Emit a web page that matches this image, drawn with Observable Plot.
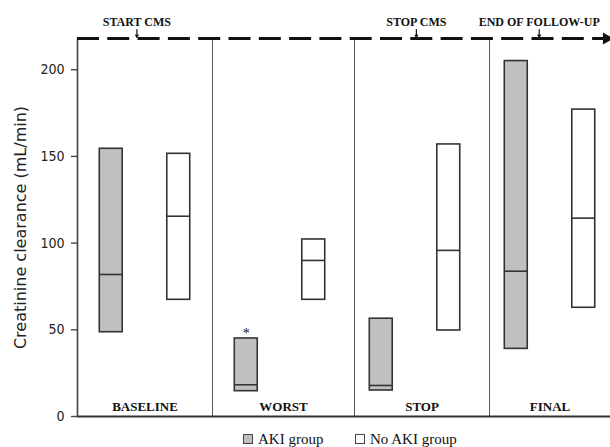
<!DOCTYPE html>
<html>
<head>
<meta charset="utf-8">
<script src="https://cdn.jsdelivr.net/npm/d3@7"></script>
<script src="https://cdn.jsdelivr.net/npm/@observablehq/plot@0.6"></script>
<style>
  body { margin: 0; background: white; }
  #chart { width: 610px; }
  .legend { position: relative; width: 610px; height: 19px; font: 15px "Liberation Serif", serif; color: #111; }
  .legend .item { position: absolute; top: 2px; height: 18px; line-height: 18px; display: flex; align-items: center; gap: 5px; white-space: nowrap; }
  .legend .sw { width: 8px; height: 8px; border: 1px solid #444; display: inline-block; }
</style>
</head>
<body>
<div id="chart"></div>
<script>
// ---- data ----
const categories = ["BASELINE", "WORST", "STOP", "FINAL"];
const groups = ["AKI group", "No AKI group"];
const akiLow    = [48.6, 14.6, 15.0, 39.0];
const akiMed    = [81.9, 18.3, 17.9, 83.8];
const akiHigh   = [154.4, 45.0, 56.4, 205.0];
const noAkiLow  = [67.3, 67.3, 49.6, 62.7];
const noAkiMed  = [115.5, 90.0, 95.8, 114.4];
const noAkiHigh = [151.5, 102.1, 156.9, 177.0];
const significance = ["", "*", "", ""];
const yTicks = [0, 50, 100, 150, 200];
const yLabel = "Creatinine clearance (mL/min)";
const events = ["START CMS", "STOP CMS", "END OF FOLLOW-UP"];
const eventPos = [0.44, 2.51, 3.42];

// ---- layout ----
const xMax = 3.948;
const bounds = [0, 1, 2.052, 3.052, xMax];
const timelineY = 218;
const halfW = 0.085;
const groupFill = ["#c0c0c0", "white"];
const serif = "Liberation Serif, Times New Roman, serif";
const sans = "DejaVu Sans Condensed, DejaVu Sans, sans-serif";

const rows = [];
categories.forEach((c, i) => {
  rows.push({cat: c, group: groups[0], pos: i + 0.25, lo: akiLow[i], med: akiMed[i], hi: akiHigh[i], fill: groupFill[0], sig: significance[i]});
  rows.push({cat: c, group: groups[1], pos: i + 0.75, lo: noAkiLow[i], med: noAkiMed[i], hi: noAkiHigh[i], fill: groupFill[1], sig: ""});
});

const chart = Plot.plot({
  width: 610,
  height: 428,
  marginLeft: 77,
  marginRight: 0,
  marginTop: 38,
  marginBottom: 12,
  style: {fontFamily: sans, background: "white", color: "#222"},
  x: {domain: [0, xMax], axis: null},
  y: {domain: [0, timelineY]},
  marks: [
    Plot.axisY({ticks: yTicks, tickSize: 6, tickPadding: 7, fontSize: 14, label: null, strokeWidth: 1.4, stroke: "#444", fill: "#222"}),
    Plot.text([yLabel], {frameAnchor: "left", textAnchor: "middle", dx: -57, rotate: -90, text: d => d, fontFamily: "DejaVu Sans, sans-serif", fontSize: 16, fill: "#222"}),
    // panel dividers
    Plot.ruleX(bounds.slice(1, 4), {y1: 0, y2: timelineY, stroke: "#555", strokeWidth: 1}),
    // axis lines
    Plot.ruleX([0], {y1: 0, y2: timelineY, stroke: "#444", strokeWidth: 1.6}),
    Plot.ruleY([0], {x1: 0, x2: xMax, stroke: "#333", strokeWidth: 1.8}),
    // timeline
    Plot.ruleY([timelineY], {x1: 0, x2: 3.9, stroke: "#111", strokeWidth: 3, strokeDasharray: "22,8.3"}),
    Plot.dot([timelineY], {x: 3.918, y: d => d, symbol: "triangle", r: 4.5, rotate: 90, fill: "#111"}),
    Plot.arrow(events, {x1: (d, i) => eventPos[i], x2: (d, i) => eventPos[i], y1: 223.2, y2: 218.7, headLength: 4, strokeWidth: 1.2, stroke: "#111"}),
    Plot.text(events, {x: (d, i) => eventPos[i], y: timelineY, dy: -16, text: d => d, fontFamily: serif, fontWeight: "bold", fontSize: 12, fill: "#111"}),
    // bars
    Plot.rect(rows, {x1: d => d.pos - halfW, x2: d => d.pos + halfW, y1: "lo", y2: "hi", fill: "fill", stroke: "#333", strokeWidth: 1.6}),
    Plot.ruleY(rows, {y: "med", x1: d => d.pos - halfW, x2: d => d.pos + halfW, stroke: "#333", strokeWidth: 1.6}),
    Plot.text(rows.filter(d => d.sig), {x: "pos", y: "hi", dy: -5, text: "sig", fontFamily: serif, fontSize: 14, fill: "#111"}),
    // category labels
    Plot.text(categories, {x: (d, i) => (bounds[i] + bounds[i + 1]) / 2, y: 0, dy: -10, text: d => d, fontFamily: serif, fontWeight: "bold", fontSize: 13, fill: "#111"})
  ]
});
document.getElementById("chart").appendChild(chart);

// legend below
const legend = document.createElement("div");
legend.className = "legend";
const legendLeft = [243, 355];
groups.forEach((g, i) => {
  const item = document.createElement("span");
  item.className = "item";
  item.style.left = legendLeft[i] + "px";
  const sw = document.createElement("span");
  sw.className = "sw";
  sw.style.background = groupFill[i];
  const t = document.createElement("span");
  t.textContent = g;
  item.appendChild(sw);
  item.appendChild(t);
  legend.appendChild(item);
});
document.body.appendChild(legend);
</script>
</body>
</html>
